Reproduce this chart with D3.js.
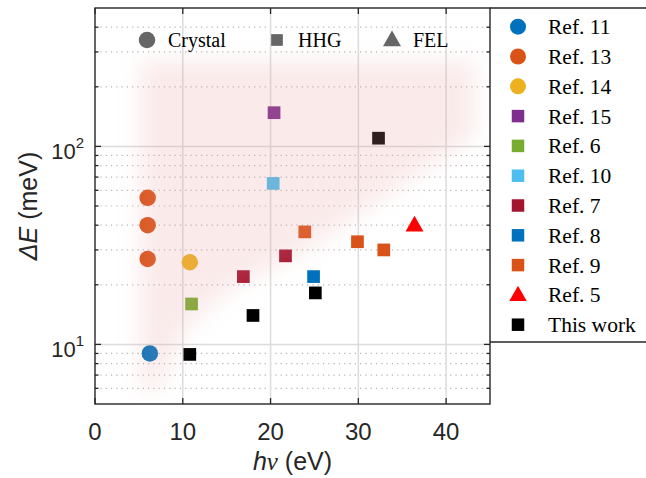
<!DOCTYPE html>
<html>
<head>
<meta charset="utf-8">
<script src="https://cdn.jsdelivr.net/npm/d3@7/dist/d3.min.js"></script>
<style>
  body { margin: 0; background: #fff; }
  svg { display: block; }
</style>
</head>
<body>
<div id="chart"></div>
<script>
// data
var refNames = ["Ref. 11", "Ref. 13", "Ref. 14", "Ref. 15", "Ref. 6", "Ref. 10", "Ref. 7", "Ref. 8", "Ref. 9", "Ref. 5", "This work"];
var refShapes = ["circle", "circle", "circle", "square", "square", "square", "square", "square", "square", "triangle", "square"];
var refColors = ["#0072BD", "#D95319", "#EDB120", "#7E2F8E", "#77AC30", "#4DBEEE", "#A2142F", "#0072BD", "#D95319", "#FF0000", "#000000"];
var refHv = [[6.25], [6.0, 6.0, 6.0], [10.8], [20.4], [11.0], [20.3], [16.9, 21.7], [24.9], [23.9, 29.9, 32.9], [36.4], [10.8, 18.0, 25.1, 32.3]];
var refDE = [[9.0], [55, 40, 27], [26], [148], [16], [65], [22, 28], [22], [37, 33, 30], [40], [8.9, 14, 18.2, 110]];

var typeNames = ["Crystal", "HHG", "FEL"];
var typeShapes = ["circle", "square", "triangle"];

var xTicks = [0, 10, 20, 30, 40];
var yMajor = [10, 100];
var yMinor = [6, 7, 8, 9, 20, 30, 40, 50, 60, 70, 80, 90, 200, 300, 400];

// shaded region (hv, dE) outline
var hazeHv = [5.1, 43.2, 43.2, 32.4, 23.3, 15.3, 10.2, 7.4, 5.1];
var hazeDE = [270, 270, 113, 53.6, 28.3, 18.9, 11.9, 5.9, 5.9];

var W = 646, H = 478;
var margin = { top: 8, right: 156, bottom: 74, left: 95 },
  width = W - margin.left - margin.right,
  height = H - margin.top - margin.bottom;

var x = d3.scaleLinear().domain([0, 45]).range([0, width]);
var y = d3.scaleLog().domain([5, 500]).range([height, 0]);

var axisCol = "#262626";

var svg = d3.select("#chart").append("svg")
  .attr("width", W)
  .attr("height", H);

var defs = svg.append("defs");
defs.append("filter").attr("id", "blur")
  .attr("x", "-30%").attr("y", "-30%").attr("width", "160%").attr("height", "160%")
  .append("feGaussianBlur").attr("stdDeviation", 11);
defs.append("clipPath").attr("id", "clip")
  .append("rect").attr("width", width).attr("height", height);

var g = svg.append("g")
  .attr("transform", "translate(" + margin.left + "," + margin.top + ")");

// grid
g.selectAll(".minor").data(yMinor).enter().append("line")
  .attr("x1", 0).attr("x2", width)
  .attr("y1", function (d) { return y(d); }).attr("y2", function (d) { return y(d); })
  .attr("stroke", "#b8b8b8").attr("stroke-width", 1.2)
  .attr("stroke-dasharray", "1.3,4");
g.selectAll(".vgrid").data(xTicks.slice(1)).enter().append("line")
  .attr("x1", function (d) { return x(d); }).attr("x2", function (d) { return x(d); })
  .attr("y1", 0).attr("y2", height)
  .attr("stroke", "#dcdcdc").attr("stroke-width", 1.5);
g.selectAll(".hgrid").data(yMajor).enter().append("line")
  .attr("x1", 0).attr("x2", width)
  .attr("y1", function (d) { return y(d); }).attr("y2", function (d) { return y(d); })
  .attr("stroke", "#dcdcdc").attr("stroke-width", 1.5);

function symbolPath(shape, size) {
  if (shape == "circle") return d3.symbol(d3.symbolCircle, Math.PI * size * size / 4)();
  if (shape == "square") return d3.symbol(d3.symbolSquare, size * size)();
  var w = size, h = size * 0.88;
  return "M0," + (-h * 0.6) + "L" + (w / 2) + "," + (h * 0.4) + "L" + (-w / 2) + "," + (h * 0.4) + "Z";
}
var markerSize = { circle: 16.5, square: 12.7, triangle: 18 };

// points
var pts = [];
refNames.forEach(function (n, i) {
  refHv[i].forEach(function (v, j) {
    pts.push({ hv: v, dE: refDE[i][j], shape: refShapes[i], color: refColors[i] });
  });
});

g.selectAll(".pt").data(pts).enter().append("path")
  .attr("class", "pt")
  .attr("transform", function (d) { return "translate(" + x(d.hv) + "," + y(d.dE) + ")"; })
  .attr("d", function (d) { return symbolPath(d.shape, markerSize[d.shape]); })
  .attr("fill", function (d) { return d.color; });

// haze on top
var hazeLine = d3.line()
  .x(function (d, i) { return x(hazeHv[i]); })
  .y(function (d, i) { return y(hazeDE[i]); })
  .curve(d3.curveLinearClosed);
g.append("g").attr("clip-path", "url(#clip)")
  .append("path")
  .attr("d", hazeLine(hazeHv))
  .attr("fill", "#e89a9a")
  .attr("opacity", 0.2)
  .attr("filter", "url(#blur)");

// axes box
g.append("rect").attr("width", width).attr("height", height)
  .attr("fill", "none").attr("stroke", axisCol).attr("stroke-width", 1.4);

// x ticks (bottom and top, inward)
xTicks.forEach(function (t) {
  g.append("line").attr("x1", x(t)).attr("x2", x(t)).attr("y1", height).attr("y2", height - 6)
    .attr("stroke", axisCol).attr("stroke-width", 1.3);
  g.append("line").attr("x1", x(t)).attr("x2", x(t)).attr("y1", 0).attr("y2", 6)
    .attr("stroke", axisCol).attr("stroke-width", 1.3);
  g.append("text").attr("x", x(t)).attr("y", height + 36)
    .attr("text-anchor", "middle")
    .style("font-family", "'Liberation Sans', Arial, sans-serif")
    .style("font-size", "24px").attr("fill", axisCol)
    .text(t);
});

// y ticks
yMajor.concat(yMinor).forEach(function (t) {
  var len = yMajor.indexOf(t) >= 0 ? 6 : 3.5;
  g.append("line").attr("x1", 0).attr("x2", len).attr("y1", y(t)).attr("y2", y(t))
    .attr("stroke", axisCol).attr("stroke-width", 1.3);
  g.append("line").attr("x1", width).attr("x2", width - len).attr("y1", y(t)).attr("y2", y(t))
    .attr("stroke", axisCol).attr("stroke-width", 1.3);
});
yMajor.forEach(function (t) {
  var tx = g.append("text").attr("x", -11).attr("y", y(t) + 13)
    .attr("text-anchor", "end")
    .style("font-family", "'Liberation Sans', Arial, sans-serif")
    .style("font-size", "22px").attr("fill", axisCol);
  tx.append("tspan").text("10");
  tx.append("tspan").attr("dy", -11).style("font-size", "15px").text(Math.round(Math.log10(t)));
});

// axis labels
var xl = svg.append("text")
  .attr("x", margin.left + width / 2).attr("y", 470)
  .attr("text-anchor", "middle")
  .style("font-family", "'Liberation Sans', Arial, sans-serif")
  .style("font-size", "25px").attr("fill", axisCol);
xl.append("tspan").style("font-style", "italic").text("h");
xl.append("tspan").style("font-style", "italic").style("font-family", "'Liberation Serif', serif").text("\u03bd");
xl.append("tspan").text(" (eV)");

var yl = svg.append("text")
  .attr("transform", "translate(37," + (margin.top + height / 2) + ") rotate(-90)")
  .attr("text-anchor", "middle")
  .style("font-family", "'Liberation Sans', Arial, sans-serif")
  .style("font-size", "25px").attr("fill", axisCol);
yl.append("tspan").style("font-style", "italic").text("\u0394E");
yl.append("tspan").text(" (meV)");

// type legend inside plot
var typeX = [52, 182, 297];
typeNames.forEach(function (n, i) {
  g.append("path")
    .attr("transform", "translate(" + typeX[i] + ",32)")
    .attr("d", symbolPath(typeShapes[i], markerSize[typeShapes[i]] - (typeShapes[i] == "square" ? 1 : 0)))
    .attr("fill", "#666666");
  g.append("text").attr("x", typeX[i] + 21).attr("y", 39)
    .style("font-family", "'Liberation Serif', 'Times New Roman', serif")
    .style("font-size", "20px").attr("fill", "#000")
    .text(n);
});

// reference legend on the right
var lg = svg.append("g").attr("transform", "translate(" + (margin.left + width) + "," + margin.top + ")");
lg.append("line").attr("x1", 0).attr("x2", W).attr("y1", 0).attr("y2", 0)
  .attr("stroke", axisCol).attr("stroke-width", 1.4);
lg.append("line").attr("x1", 0).attr("x2", W).attr("y1", 334).attr("y2", 334)
  .attr("stroke", axisCol).attr("stroke-width", 1.4);
refNames.forEach(function (n, i) {
  var cy = 18.7 + i * 29.8;
  var sz = refShapes[i] == "circle" ? 16 : (refShapes[i] == "square" ? 12.5 : 17.5);
  lg.append("path")
    .attr("transform", "translate(28," + cy + ")")
    .attr("d", symbolPath(refShapes[i], sz))
    .attr("fill", refColors[i]);
  lg.append("text").attr("x", 58).attr("y", cy + 7.5)
    .style("font-family", "'Liberation Serif', 'Times New Roman', serif")
    .style("font-size", "21.5px").attr("fill", "#000")
    .text(n);
});
</script>
</body>
</html>
